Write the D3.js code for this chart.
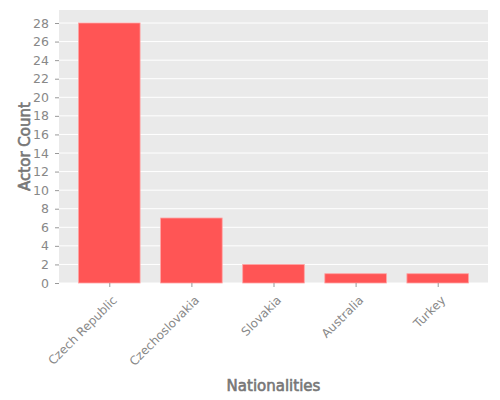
<!DOCTYPE html>
<html>
<meta charset="utf-8">
<script src="https://d3js.org/d3.v7.min.js"></script>
<style>
  body { margin: 0; background: #fff; }
  text { font-family: "DejaVu Sans", sans-serif; }
</style>
<body>
<div id="chart"></div>
<script>

// nationalities and how many actors come from each
var nationalities = ["Czech Republic", "Czechoslovakia", "Slovakia", "Australia", "Turkey"];
var actorCounts = [28, 7, 2, 1, 1];
var yTicks = [0, 2, 4, 6, 8, 10, 12, 14, 16, 18, 20, 22, 24, 26, 28];

var W = 500, H = 400;
var margin = {top: 10, right: 12, bottom: 117, left: 59};
var width = W - margin.left - margin.right,
    height = H - margin.top - margin.bottom;

var svg = d3.select("#chart")
  .append("svg")
    .attr("width", W)
    .attr("height", H);

var g = svg.append("g")
    .attr("transform", "translate(" + margin.left + "," + margin.top + ")");

// background panel
g.append("rect")
  .attr("width", width)
  .attr("height", height)
  .attr("fill", "#eaeaea");

// bars are 0.75 wide, with 5% margin on both sides of the x range
var n = nationalities.length;
var lo = -0.375, hi = n - 1 + 0.375, pad = (hi - lo) * 0.05;
var x = d3.scaleLinear()
  .domain([lo - pad, hi + pad])
  .range([0, width]);

var y = d3.scaleLinear()
  .domain([0, d3.max(actorCounts) * 1.05])
  .range([height, 0]);

// horizontal grid
g.selectAll(".grid")
  .data(yTicks)
  .enter().append("line")
    .attr("x1", 0)
    .attr("x2", width)
    .attr("y1", function(d) { return y(d); })
    .attr("y2", function(d) { return y(d); })
    .attr("stroke", "#fff")
    .attr("stroke-width", 1);

// bars
g.selectAll(".bar")
  .data(actorCounts)
  .enter().append("rect")
    .attr("x", function(d, i) { return x(i - 0.375); })
    .attr("y", function(d) { return y(d); })
    .attr("width", x(0.375) - x(-0.375))
    .attr("height", function(d) { return height - y(d); })
    .attr("fill", "#ff5555")
    .attr("stroke", "#ffa3a3")
    .attr("stroke-width", 0.8);

// y axis
var yAxis = g.append("g")
  .call(d3.axisLeft(y).tickValues(yTicks).tickSize(4).tickPadding(6));
yAxis.select(".domain").remove();
yAxis.selectAll(".tick line").attr("stroke", "#999");
yAxis.selectAll(".tick text")
  .attr("fill", "#888")
  .style("font-size", "12.5px");

// x axis
var xAxis = g.append("g")
  .attr("transform", "translate(0," + height + ")")
  .call(d3.axisBottom(x).tickValues(d3.range(n)).tickSize(4)
    .tickFormat(function(i) { return nationalities[i]; }));
xAxis.select(".domain").remove();
xAxis.selectAll(".tick line").attr("stroke", "#999");
xAxis.selectAll(".tick text")
  .attr("fill", "#888")
  .style("font-size", "12px")
  .attr("text-anchor", "end")
  .attr("dy", null)
  .attr("y", null)
  .attr("transform", "translate(8,18) rotate(-45)");

// axis titles
svg.append("text")
  .attr("x", margin.left + width / 2)
  .attr("y", 391)
  .attr("text-anchor", "middle")
  .attr("fill", "#777")
  .style("font-size", "15px")
  .style("stroke", "#777")
  .style("stroke-width", "0.6px")
  .text("Nationalities");

svg.append("text")
  .attr("transform", "translate(30," + (margin.top + height / 2) + ") rotate(-90)")
  .attr("text-anchor", "middle")
  .attr("fill", "#777")
  .style("font-size", "15px")
  .style("stroke", "#777")
  .style("stroke-width", "0.6px")
  .text("Actor Count");

</script>
</body>
</html>
